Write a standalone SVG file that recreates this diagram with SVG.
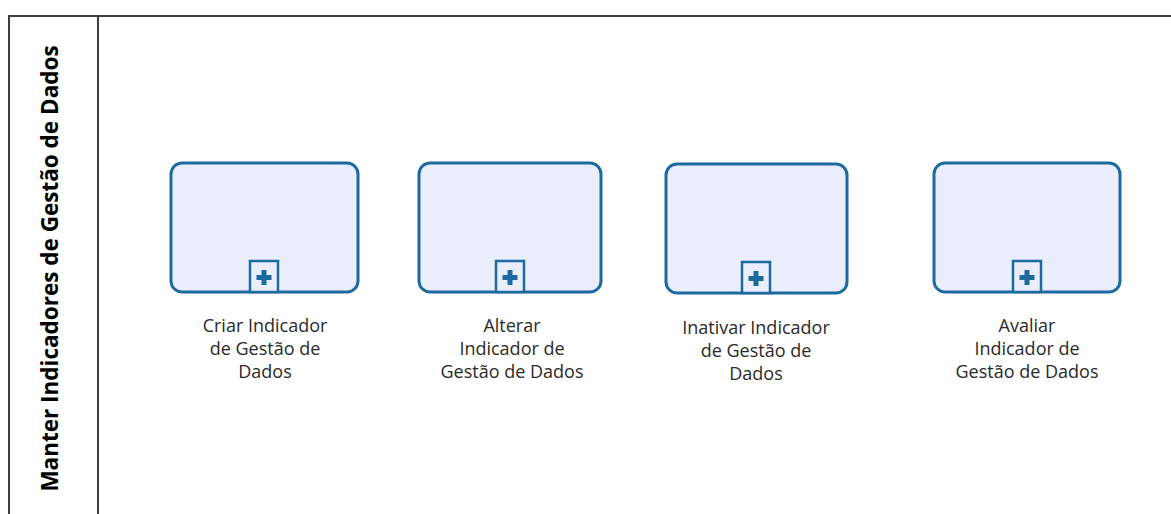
<svg xmlns="http://www.w3.org/2000/svg" width="1171" height="514" viewBox="0 0 1171 514">
<style>
.frame{fill:none;stroke:#3c3c3c;stroke-width:2}
.task{fill:#eaeefc;stroke:#1d6a9f;stroke-width:3}
.mk{fill:#eaeefc;stroke:#1d6a9f;stroke-width:2.5}
.plus{fill:#1d6a9f}
.lbl{font-family:"Open Sans","Noto Sans",sans-serif;font-size:18px;fill:#2a2a2a;text-anchor:middle}
.title{font-family:"Open Sans","Noto Sans",sans-serif;font-size:22.5px;font-weight:bold;fill:#000;text-anchor:middle}
</style>
<defs>
<g id="sub">
<rect class="mk" x="-14" y="-31" width="28" height="31"/>
<path class="plus" d="M-2.5,-22h5v5h5v5h-5v5h-5v-5h-5v-5h5z"/>
</g>
</defs>
<rect width="1171" height="514" fill="#fff"/>
<g id="pool">
<path class="frame" d="M1171,16H9V514M98,16V514"/>
<text class="title" transform="translate(58,268.5) rotate(-90)">Manter Indicadores de Gestão de Dados</text>
</g>
<g id="connectors"></g>
<g id="n1">
<rect class="task" x="171" y="163" width="187" height="129" rx="11"/>
<use href="#sub" x="264" y="292"/>
<text class="lbl"><tspan x="265" y="332">Criar Indicador</tspan><tspan x="265" y="355">de Gestão de</tspan><tspan x="265" y="378">Dados</tspan></text>
</g>
<g id="n2">
<rect class="task" x="419" y="163" width="182" height="129" rx="11"/>
<use href="#sub" x="510" y="292"/>
<text class="lbl"><tspan x="512" y="332">Alterar</tspan><tspan x="512" y="355">Indicador de</tspan><tspan x="512" y="378">Gestão de Dados</tspan></text>
</g>
<g id="n3">
<rect class="task" x="666" y="164" width="181" height="129" rx="11"/>
<use href="#sub" x="756" y="293"/>
<text class="lbl"><tspan x="756" y="334">Inativar Indicador</tspan><tspan x="756" y="357">de Gestão de</tspan><tspan x="756" y="380">Dados</tspan></text>
</g>
<g id="n4">
<rect class="task" x="934" y="163" width="186" height="129" rx="11"/>
<use href="#sub" x="1027" y="292"/>
<text class="lbl"><tspan x="1027" y="332">Avaliar</tspan><tspan x="1027" y="355">Indicador de</tspan><tspan x="1027" y="378">Gestão de Dados</tspan></text>
</g>
</svg>
